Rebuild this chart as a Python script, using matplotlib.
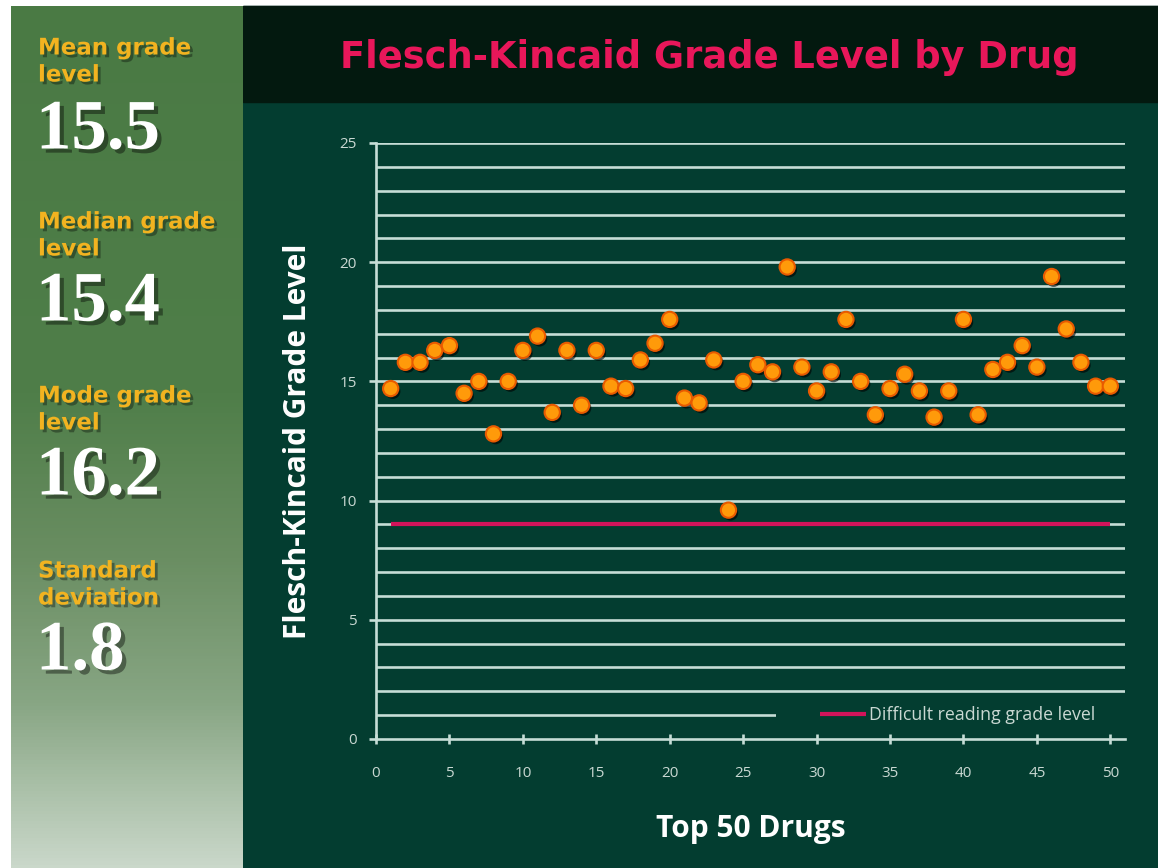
import numpy as np
import matplotlib
matplotlib.use("Agg")
import matplotlib.pyplot as plt
import matplotlib.patheffects as pe
from matplotlib.colors import LinearSegmentedColormap
from matplotlib.transforms import Bbox

# ---- data ----
drug_rank = list(range(1, 51))
grade_level = [14.7, 15.8, 15.8, 16.3, 16.5, 14.5, 15.0, 12.8, 15.0, 16.3,
               16.9, 13.7, 16.3, 14.0, 16.3, 14.8, 14.7, 15.9, 16.6, 17.6,
               14.3, 14.1, 15.9, 9.6, 15.0, 15.7, 15.4, 19.8, 15.6, 14.6,
               15.4, 17.6, 15.0, 13.6, 14.7, 15.3, 14.6, 13.5, 14.6, 17.6,
               13.6, 15.5, 15.8, 16.5, 15.6, 19.4, 17.2, 15.8, 14.8, 14.8]
difficult_level = 9
difficult_x = [1, 50]
stat_labels = [("Mean grade", "level"), ("Median grade", "level"),
               ("Mode grade", "level"), ("Standard", "deviation")]
stat_values = ["15.5", "15.4", "16.2", "1.8"]
x_ticks = [0, 5, 10, 15, 20, 25, 30, 35, 40, 45, 50]
y_ticks = [0, 5, 10, 15, 20, 25]

W, H = 1158, 868
fig = plt.figure(figsize=(W / 100, H / 100), dpi=100)
fig.patch.set_facecolor("white")

BG = "#033d30"
HEADER = "#03190f"
GRID = "#c6ddd6"
TXT = "#c9d8d2"

# main dark panel
fig.patches.append(plt.Rectangle((243 / W, 0), 1 - 243 / W, 1 - 6 / H,
                                 transform=fig.transFigure, color=BG, zorder=-5))
# header band
fig.patches.append(plt.Rectangle((243 / W, 1 - 102 / H), 1 - 243 / W, (102 - 6) / H,
                                 transform=fig.transFigure, color=HEADER, zorder=-4))

# left gradient panel
gax = fig.add_axes([11 / W, 0, (243 - 11) / W, 1 - 6 / H])
gax.set_zorder(-3)
cmap = LinearSegmentedColormap.from_list(
    "side", [(0.0, "#cad8ca"), (0.19, "#88a684"), (0.36, "#6a8e62"),
             (0.55, "#4f7e49"), (1.0, "#4a7a44")])
grad = np.linspace(0, 1, 256).reshape(-1, 1)
gax.imshow(grad, aspect="auto", cmap=cmap, origin="lower", extent=[0, 1, 0, 1])
gax.set_axis_off()

shadow = [pe.withSimplePatchShadow(offset=(2, -2), shadow_rgbFace="black", alpha=0.35)]
label_y = [48, 222, 396, 571]
value_y = [131, 303, 477, 652]
for (l1, l2), val, ly, vy in zip(stat_labels, stat_values, label_y, value_y):
    fig.text(38 / W, 1 - ly / H, l1, color="#f2b320", fontsize=16.5,
             fontweight="bold", family="DejaVu Sans", va="center", ha="left",
             path_effects=shadow)
    fig.text(38 / W, 1 - (ly + 27) / H, l2, color="#f2b320", fontsize=16.5,
             fontweight="bold", family="DejaVu Sans", va="center", ha="left",
             path_effects=shadow)
    fig.text(36 / W, 1 - vy / H, val, color="white", fontsize=51,
             fontweight="bold", family="Liberation Serif", va="center", ha="left",
             path_effects=[pe.withSimplePatchShadow(offset=(3, -3), shadow_rgbFace="black", alpha=0.4)])

# title
fig.text(709 / W, 1 - 57 / H, "Flesch-Kincaid Grade Level by Drug", color="#e8175a",
         fontsize=26.5, fontweight="bold", family="DejaVu Sans", ha="center", va="center")

# plot axes
ax = fig.add_axes([376 / W, 1 - 739 / H, (1125 - 376) / W, (739 - 143) / H])
ax.set_facecolor("none")
ax.set_xlim(0, 51)
ax.set_ylim(0, 25)
for y in range(1, 26):
    ax.axhline(y, color=GRID, lw=1.9, zorder=1)
ax.plot(difficult_x, [difficult_level] * 2, color="#d1145a", lw=3, zorder=2,
        label="Difficult reading grade level", solid_capstyle="butt")
ax.plot(drug_rank, grade_level, ls="none", marker="o", ms=11, mfc="#ff9a0a",
        mec="#e85a00", mew=1.5, zorder=3,
        path_effects=[pe.withSimplePatchShadow(offset=(1.5, -2), shadow_rgbFace="black", alpha=0.6)])

for s in ["top", "right"]:
    ax.spines[s].set_visible(False)
for s in ["left", "bottom"]:
    ax.spines[s].set_color(GRID)
    ax.spines[s].set_linewidth(1.9)
ax.set_xticks(x_ticks)
ax.set_yticks(y_ticks)
ax.tick_params(colors=GRID, width=1.9, length=5, labelcolor=TXT, labelsize=11, pad=9)
ax.tick_params(axis="x", direction="inout", length=7, pad=16)
for lbl in ax.get_xticklabels() + ax.get_yticklabels():
    lbl.set_family("Open Sans")

ax.set_ylabel("Flesch-Kincaid Grade Level", color="white", fontsize=21.5,
              fontweight="bold", family="Open Sans", labelpad=19)
ax.set_xlabel("Top 50 Drugs", color="white", fontsize=21.5,
              fontweight="bold", family="Open Sans", labelpad=24)

leg = ax.legend(loc="center right", bbox_to_anchor=(1.0, 1 / 25), frameon=False,
                handlelength=2.6, borderpad=0.3, handletextpad=0.15, borderaxespad=1.4,
                prop={"family": "Open Sans", "size": 12.8})
leg.set_zorder(5)
for t in leg.get_texts():
    t.set_color(TXT)

# background box behind the legend (hides gridline under it, like the original)
fig.canvas.draw()
bb = leg.get_window_extent()
inv = ax.transAxes.inverted()
(x0, y0), (x1, y1) = inv.transform([[bb.x0 - 38, bb.y0 + 2], [bb.x1, bb.y1 - 2]])
ax.add_patch(plt.Rectangle((x0, y0), 1.0 - x0, y1 - y0, transform=ax.transAxes,
                           facecolor=BG, edgecolor="none", zorder=1.5))

fig.savefig("out.png", dpi=100, facecolor=fig.get_facecolor())
